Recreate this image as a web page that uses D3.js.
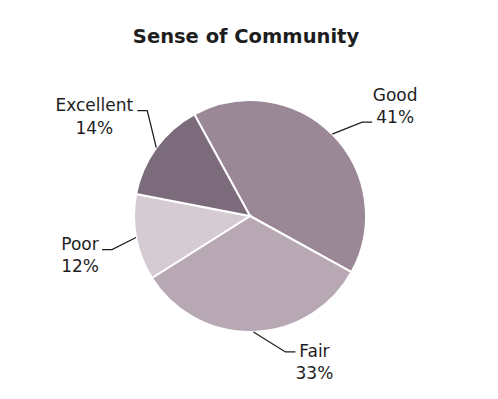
<!DOCTYPE html>
<html>
<head>
<meta charset="utf-8">
<script src="https://cdn.jsdelivr.net/npm/d3@7"></script>
<style>
  body { margin: 0; background: #fff; }
  text { font-family: "DejaVu Sans", Verdana, sans-serif; fill: #1e1e1e; }
</style>
</head>
<body>
<svg id="chart" width="498" height="399"></svg>
<script>
const title = 'Sense of Community'
const categories = [ 'Good', 'Fair', 'Poor', 'Excellent' ]
const shares = [ 41, 33, 12, 14 ]
const colors = [ '#9a8896', '#b7a8b4', '#d4ccd2', '#7b6b7b' ]

// label placement: elbow offset from the slice edge, tail direction, text offset from tail end
const labelLayout = {
    Good:      { ex: 30,  ey: -12, dir: 1,  tx: 23,  ty: -21.6 },
    Fair:      { ex: 32,  ey: 20,  dir: 1,  tx: 19,  ty: 5 },
    Poor:      { ex: -24, ey: 12,  dir: -1, tx: -22, ty: 0 },
    Excellent: { ex: -9,  ey: -37, dir: -1, tx: -43, ty: 0.7 }
}

const svg = d3.select('#chart')
const cx = 250, cy = 216, radius = 116

svg.append('text')
    .attr('x', 246).attr('y', 42.5)
    .attr('text-anchor', 'middle')
    .style('font-weight', 'bold')
    .style('font-size', '19.5px')
    .text(title)

const data = categories.map((c, i) => ({ name: c, value: shares[i], color: colors[i] }))

const startAngle = -28.7 * Math.PI / 180
const pie = d3.pie().sort(null).value(d => d.value)
    .startAngle(startAngle).endAngle(startAngle + 2 * Math.PI)
const arcs = pie(data)

const arc = d3.arc().innerRadius(0).outerRadius(radius)
const edge = d3.arc().innerRadius(radius).outerRadius(radius)

const g = svg.append('g').attr('transform', `translate(${cx},${cy})`)

g.selectAll('path.slice')
    .data(arcs)
  .enter().append('path')
    .attr('class', 'slice')
    .attr('d', arc)
    .attr('fill', d => d.data.color)
    .attr('stroke', '#fff')
    .attr('stroke-width', 2)

arcs.forEach(a => {
    const L = labelLayout[a.data.name]
    const [ px, py ] = edge.centroid(a)
    const elbow = [ px + L.ex, py + L.ey ]
    const tail = [ elbow[0] + 10 * L.dir, elbow[1] ]

    g.append('path')
        .attr('d', d3.line()([ [ px, py ], elbow, tail ]))
        .attr('fill', 'none')
        .attr('stroke', '#1e1e1e')
        .attr('stroke-width', 1.3)

    const t = g.append('text')
        .attr('text-anchor', 'middle')
        .style('font-size', '17px')
    t.append('tspan')
        .attr('x', tail[0] + L.tx).attr('y', tail[1] + L.ty)
        .text(a.data.name)
    t.append('tspan')
        .attr('x', tail[0] + L.tx).attr('y', tail[1] + L.ty + 22.5)
        .text(a.data.value + '%')
})
</script>
</body>
</html>
